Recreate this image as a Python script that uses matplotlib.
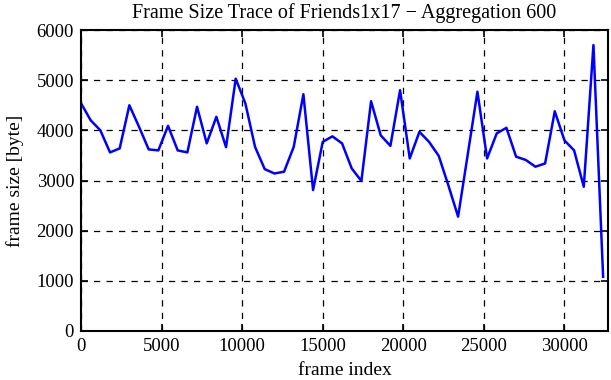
import matplotlib
matplotlib.use("Agg")
import matplotlib.pyplot as plt

# frame size trace, one point per 600 frames
frame_index = [i * 600 for i in range(55)]
frame_size = [4540, 4200, 4000, 3560, 3640, 4500, 4070, 3620, 3600, 4090,
              3600, 3560, 4470, 3740, 4270, 3665, 5030, 4536, 3670, 3227,
              3140, 3175, 3670, 4720, 2810, 3770, 3880, 3740, 3240, 2990,
              4580, 3900, 3690, 4800, 3440, 3970, 3770, 3490, 2900, 2280,
              3520, 4770, 3440, 3940, 4050, 3475, 3410, 3275, 3340, 4380,
              3800, 3600, 2875, 5700, 1080]
x_ticks = [0, 5000, 10000, 15000, 20000, 25000, 30000]
y_ticks = [0, 1000, 2000, 3000, 4000, 5000, 6000]

plt.rcParams['font.family'] = ['Liberation Serif', 'DejaVu Serif']
plt.rcParams['font.size'] = 14

fig = plt.figure(figsize=(6.11, 3.80), dpi=100)
ax = fig.add_axes([0.1326, 0.129, 0.8624, 0.792])

ax.plot(frame_index, frame_size, color='#0000ff', linewidth=1.8)

ax.set_xlim(0, 32700)
ax.set_ylim(0, 6000)
ax.set_xticks(x_ticks)
ax.set_yticks(y_ticks)
ax.grid(True, color='black', linestyle=(0, (5, 5)), linewidth=0.9)
ax.tick_params(direction='in', length=5, width=1.2, top=True, right=True,
               labelsize=13.5, pad=5)
for s in ax.spines.values():
    s.set_linewidth(1.5)

ax.set_title("Frame Size Trace of Friends1x17 \u2212 Aggregation 600",
             fontsize=14.5, pad=9)
ax.set_xlabel("frame index", labelpad=5)
ax.set_ylabel("frame size [byte]", labelpad=9)

fig.savefig("out.png", dpi=100)
